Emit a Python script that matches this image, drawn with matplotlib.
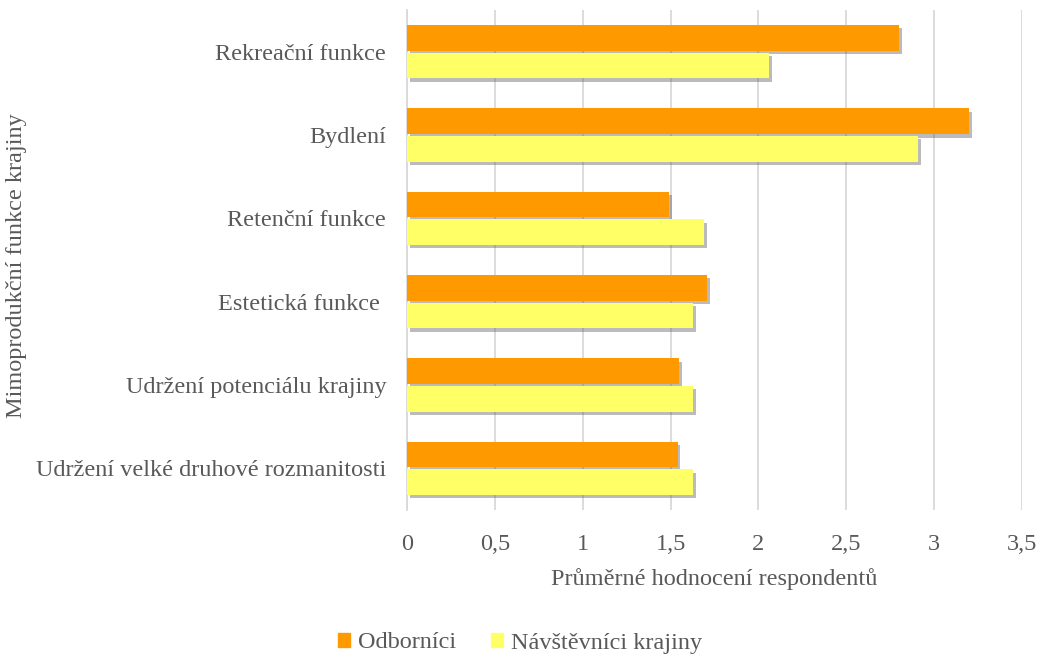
import numpy as np
import matplotlib
matplotlib.use('Agg')
import matplotlib.pyplot as plt
import matplotlib.patheffects as pe
from matplotlib.patches import Patch

plt.rcParams['font.family'] = ['Liberation Serif', 'DejaVu Serif']

categories = ['Rekreační funkce', 'Bydlení', 'Retenční funkce', 'Estetická funkce ',
              'Udržení potenciálu krajiny', 'Udržení velké druhové rozmanitosti']
odbornici = [2.8, 3.2, 1.49, 1.71, 1.55, 1.54]
navstevnici = [2.06, 2.91, 1.69, 1.63, 1.63, 1.63]
xticks = [0, 0.5, 1, 1.5, 2, 2.5, 3, 3.5]
xtick_labels = ['0', '0,5', '1', '1,5', '2', '2,5', '3', '3,5']

text_col = '#595959'
fs = 17.5
fig = plt.figure(figsize=(10.4, 6.55), dpi=100)
ax = fig.add_axes([407/1040, 1 - 510/655, (1022-407)/1040, (510-10)/655])

y = np.arange(len(categories))
h = 0.31
shadow = [pe.SimplePatchShadow(offset=(2, -2.5), shadow_rgbFace='#555555', alpha=0.4), pe.Normal()]
b1 = ax.barh(y - 0.165, odbornici, height=h, color='#FF9900', zorder=3)
b2 = ax.barh(y + 0.165, navstevnici, height=h, color='#FFFF66', zorder=3)
for b in list(b1) + list(b2):
    b.set_path_effects(shadow)

ax.set_ylim(len(categories) - 0.5, -0.5)
ax.set_xlim(0, 3.5)
ax.set_xticks(xticks)
ax.set_xticklabels(xtick_labels)
ax.set_yticks(y)
ax.set_yticklabels(categories)
ax.tick_params(length=0, labelsize=fs, labelcolor=text_col)
ax.tick_params(axis='x', pad=17)
ax.tick_params(axis='y', pad=15)
ax.grid(axis='x', color='#d9d9d9', linewidth=1.3, zorder=0)
for s in ['top', 'right', 'bottom']:
    ax.spines[s].set_visible(False)
ax.spines['left'].set_color('#d9d9d9')
ax.spines['left'].set_linewidth(1.3)

ax.set_xlabel('Průměrné hodnocení respondentů', fontsize=fs, color=text_col, labelpad=10)
fig.text(17/1040, 1 - 266/655, 'Mimoprodukční funkce krajiny', rotation=90, fontsize=fs,
         color=text_col, ha='center', va='center')

handles = [Patch(color='#FF9900', label='Odborníci'),
           Patch(color='#FFFF66', label='Návštěvníci krajiny')]
leg = fig.legend(handles=handles, loc='center', bbox_to_anchor=(0.5, 1 - 643/655), ncol=2,
                 frameon=False, fontsize=fs, handlelength=0.5, handleheight=0.5,
                 handletextpad=0.35, columnspacing=1.4)
for t in leg.get_texts():
    t.set_color(text_col)

fig.savefig('out.png', dpi=100)
